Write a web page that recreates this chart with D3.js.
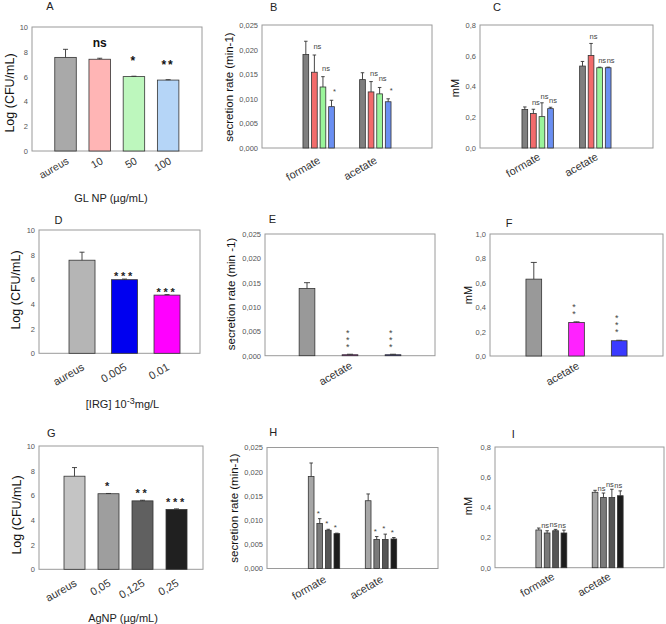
<!DOCTYPE html>
<html><head><meta charset="utf-8">
<script src="https://cdnjs.cloudflare.com/ajax/libs/d3/7.8.5/d3.min.js"></script>
<style>body{margin:0;background:#fff}svg{display:block}</style>
</head><body><script>
// ---------------- DATA ----------------
// Panel A: GL NP
const A_categories = ["aureus", "10", "50", "100"];
const A_values = [7.55, 7.4, 6.0, 5.72];
const A_errors = [0.65, 0.08, 0.03, 0.03];
const A_sig = ["", "ns", "*", "**"];
// Panel D: IRG
const D_categories = ["aureus", "0.005", "0.01"];
const D_values = [7.55, 5.97, 4.72];
const D_errors = [0.65, 0.05, 0.04];
const D_sig = ["", "***", "***"];
// Panel G: AgNP
const G_categories = ["aureus", "0,05", "0,125", "0,25"];
const G_values = [7.55, 6.13, 5.55, 4.85];
const G_errors = [0.7, 0.02, 0.05, 0.05];
const G_sig = ["", "*", "**", "***"];

const acidCategories = ["formate", "acetate"];
const acetateOnly = ["acetate"];

// Panel B: secretion rate (GL NP)
const B_formate = [0.0190, 0.0154, 0.0124, 0.0084];
const B_formateErr = [0.0027, 0.0035, 0.0021, 0.0013];
const B_acetate = [0.0139, 0.0114, 0.0110, 0.0094];
const B_acetateErr = [0.0014, 0.0021, 0.0013, 0.0006];
const B_sig = ["", "ns", "ns", "*"];
// Panel C: mM (GL NP)
const C_formate = [0.250, 0.224, 0.204, 0.256];
const C_formateErr = [0.017, 0.028, 0.09, 0.009];
const C_acetate = [0.533, 0.602, 0.522, 0.522];
const C_acetateErr = [0.030, 0.078, 0.004, 0.004];
const C_sig = ["", "ns", "ns", "ns"];
// Panel E: secretion rate (IRG)
const E_acetate = [0.0138, 0.0002, 0.0002];
const E_acetateErr = [0.0012, 0.0001, 0.0001];
const E_sig = ["", "***", "***"];
// Panel F: mM (IRG)
const F_acetate = [0.63, 0.275, 0.125];
const F_acetateErr = [0.137, 0.005, 0.004];
const F_sig = ["", "**", "***"];
// Panel H: secretion rate (AgNP)
const H_formate = [0.0190, 0.0093, 0.0079, 0.0072];
const H_formateErr = [0.0028, 0.0010, 0.0002, 0.0001];
const H_acetate = [0.0140, 0.0060, 0.0060, 0.0061];
const H_acetateErr = [0.0014, 0.0006, 0.0011, 0.0003];
const H_sig = ["", "*", "*", "*"];
// Panel I: mM (AgNP)
const I_formate = [0.250, 0.230, 0.245, 0.230];
const I_formateErr = [0.013, 0.015, 0.009, 0.019];
const I_acetate = [0.500, 0.465, 0.465, 0.477];
const I_acetateErr = [0.013, 0.030, 0.055, 0.032];
const I_sig = ["", "ns", "ns", "ns"];

// tick values
const cfuTicks = [0, 2, 4, 6, 8, 10];
const rateTicks = [0, 0.005, 0.010, 0.015, 0.020, 0.025];
const mM08Ticks = [0, 0.2, 0.4, 0.6, 0.8];
const mM10Ticks = [0, 0.2, 0.4, 0.6, 0.8, 1.0];

// ---------------- STYLE ----------------
const FONT = "'Liberation Sans', Arial, sans-serif";
const A_colors = ["#a9a9a9", "#ffb5b5", "#bdf7bd", "#b5d5f7"];
const D_colors = ["#b5b5b5", "#0000f0", "#ff00ff"];
const G_colors = ["#c4c4c4", "#9e9e9e", "#606060", "#202020"];
const BC_colors = ["#7f7f7f", "#f26b6b", "#9af59a", "#6a8ff2"];
const EF_colors = ["#999999", "#ff22ff", "#3a3aff"];
const HI_colors = ["#a6a6a6", "#7a7a7a", "#565656", "#1c1c1c"];

const intFmt = d3.format("d");
const commaFmt = f => d => d3.format(f)(d).replace(".", ",");

const W = 666, H = 624;
const svg = d3.select("body").append("svg").attr("width", W).attr("height", H)
  .style("font-family", FONT);

const cfuLabel = "Log (CFU/mL)";
const panels = [
  { id: "A", type: "single", cats: A_categories, values: A_values, errors: A_errors, sig: A_sig, colors: A_colors,
    frame: {x0: 32, x1: 202, y0: 27, y1: 151}, xDomain: [-0.98, 3.99], yDomain: [0, 10], yTicks: cfuTicks, fmt: intFmt,
    barW: 21.5, cap: 5, title: [50, 6.5], yLab: {t: cfuLabel, x: 10, y: 93, fs: 12.5},
    ann: {fs: 12, bold: true, gap: 11, dx: 0, color: "#111", ls: 2}, xl: {dx: 4, dy: 12, fs: 10.5} },
  { id: "D", type: "single", cats: D_categories, values: D_values, errors: D_errors, sig: D_sig, colors: D_colors,
    frame: {x0: 39, x1: 200, y0: 230, y1: 353.3}, xDomain: [-1.012, 2.776], yDomain: [0, 10], yTicks: cfuTicks, fmt: intFmt,
    barW: 26, cap: 5, title: [58.5, 220.5], yLab: {t: cfuLabel, x: 15.5, y: 290, fs: 12.5},
    ann: {fs: 11, bold: true, gap: -1, dx: 0, color: "#222", ls: 2.8}, xl: {dx: 3, dy: 16, fs: 11} },
  { id: "G", type: "single", cats: G_categories, values: G_values, errors: G_errors, sig: G_sig, colors: G_colors,
    frame: {x0: 39, x1: 203, y0: 446, y1: 569.3}, xDomain: [-1.044, 3.779], yDomain: [0, 10], yTicks: cfuTicks, fmt: intFmt,
    barW: 21, cap: 5, title: [51.3, 433.3], yLab: {t: cfuLabel, x: 16.5, y: 515, fs: 12.5},
    ann: {fs: 11, bold: true, gap: 3, dx: 0, color: "#222", ls: 2.8}, xl: {dx: 3, dy: 16, fs: 11} },
  { id: "B", type: "grouped", cats: acidCategories, values: [B_formate, B_acetate], errors: [B_formateErr, B_acetateErr],
    sig: [B_sig, B_sig], colors: BC_colors,
    frame: {x0: 262, x1: 432, y0: 25, y1: 148}, xDomain: [0, 3], yDomain: [0, 0.025], yTicks: rateTicks, fmt: commaFmt(".3f"),
    barW: 5.7, step: 8.56, cap: 3.5, title: [273.7, 7], yLab: {t: "secretion rate (min-1)", x: 229, y: 87, fs: 11.5},
    ann: {fs: 7.5, bold: false, gap: 6, dx: 3, color: "#444", ls: 0}, xl: {dx: 2.5, dy: 14.5, fs: 11} },
  { id: "C", type: "grouped", cats: acidCategories, values: [C_formate, C_acetate], errors: [C_formateErr, C_acetateErr],
    sig: [C_sig, C_sig], colors: BC_colors,
    frame: {x0: 480, x1: 653, y0: 25, y1: 148}, xDomain: [0, 3], yDomain: [0, 0.8], yTicks: mM08Ticks, fmt: commaFmt(".1f"),
    barW: 5.7, step: 8.56, cap: 3.5, title: [497, 7], yLab: {t: "mM", x: 455, y: 88, fs: 11},
    ann: {fs: 7.5, bold: false, gap: 4, dx: 2.5, color: "#444", ls: 0}, xl: {dx: 3.5, dy: 11, fs: 11} },
  { id: "E", type: "grouped", cats: acetateOnly, values: [E_acetate], errors: [E_acetateErr], sig: [E_sig], colors: EF_colors,
    frame: {x0: 265, x1: 435, y0: 234, y1: 355.7}, xDomain: [0, 2], yDomain: [0, 0.025], yTicks: rateTicks, fmt: commaFmt(".3f"),
    barW: 15.7, step: 43, cap: 6, title: [272.3, 218.7], yLab: {t: "secretion rate (min -1)", x: 231, y: 294, fs: 11.5},
    ann: {fs: 9, bold: false, gap: 9, dx: -2.2, color: "#444", vertical: true, vstep: 7}, xl: {dx: 3, dy: 12, fs: 11} },
  { id: "F", type: "grouped", cats: acetateOnly, values: [F_acetate], errors: [F_acetateErr], sig: [F_sig], colors: EF_colors,
    frame: {x0: 490, x1: 663, y0: 234, y1: 356}, xDomain: [0, 2], yDomain: [0, 1.0], yTicks: mM10Ticks, fmt: commaFmt(".1f"),
    barW: 15.7, step: 42.7, cap: 6, title: [509, 223], yLab: {t: "mM", x: 468, y: 295, fs: 11},
    ann: {fs: 9, bold: false, gap: 10, dx: -2.5, color: "#444", vertical: true, vstep: 7}, xl: {dx: 3.5, dy: 12, fs: 11} },
  { id: "H", type: "grouped", cats: acidCategories, values: [H_formate, H_acetate], errors: [H_formateErr, H_acetateErr],
    sig: [H_sig, H_sig], colors: HI_colors,
    frame: {x0: 267, x1: 438, y0: 447.5, y1: 568.5}, xDomain: [0, 3], yDomain: [0, 0.025], yTicks: rateTicks, fmt: commaFmt(".3f"),
    barW: 5.7, step: 8.56, cap: 3.5, title: [273.3, 431.7], yLab: {t: "secretion rate (min-1)", x: 233.5, y: 508, fs: 11.5},
    ann: {fs: 8, bold: false, gap: 3, dx: -1.5, color: "#444", ls: 0}, xl: {dx: 3, dy: 13, fs: 11} },
  { id: "I", type: "grouped", cats: acidCategories, values: [I_formate, I_acetate], errors: [I_formateErr, I_acetateErr],
    sig: [I_sig, I_sig], colors: HI_colors,
    frame: {x0: 495, x1: 664, y0: 447, y1: 567.7}, xDomain: [0, 3], yDomain: [0, 0.8], yTicks: mM08Ticks, fmt: commaFmt(".1f"),
    barW: 5.7, step: 8.4, cap: 3.5, title: [513.3, 434], yLab: {t: "mM", x: 468, y: 506, fs: 11},
    ann: {fs: 7.5, bold: false, gap: 2.5, dx: -2, color: "#444", ls: 0}, xl: {dx: 4, dy: 11, fs: 11} }
];

function drawPanel(p) {
  const f = p.frame;
  const g = svg.append("g").attr("class", "panel-" + p.id);
  const x = d3.scaleLinear().domain(p.xDomain).range([f.x0, f.x1]);
  const y = d3.scaleLinear().domain(p.yDomain).range([f.y1, f.y0]);

  const bars = [], labels = [];
  if (p.type === "single") {
    p.cats.forEach((c, i) => {
      bars.push({x: x(i), v: p.values[i], e: p.errors[i], sig: p.sig[i], color: p.colors[i]});
      labels.push({x: x(i), text: c});
    });
  } else {
    p.cats.forEach((c, ci) => {
      const vals = p.values[ci], errs = p.errors[ci], sg = p.sig[ci];
      const n = vals.length;
      vals.forEach((v, si) => bars.push({
        x: x(ci + 1) + (si - (n - 1) / 2) * p.step, v, e: errs[si], sig: sg[si], color: p.colors[si]
      }));
      labels.push({x: x(ci + 1), text: c});
    });
  }

  // frame
  g.append("rect").attr("x", f.x0).attr("y", f.y0)
    .attr("width", f.x1 - f.x0).attr("height", f.y1 - f.y0)
    .attr("fill", "none").attr("stroke", "#9a9a9a").attr("stroke-width", 1);

  // y axis
  const ax = g.append("g").attr("transform", `translate(${f.x0},0)`)
    .call(d3.axisLeft(y).tickValues(p.yTicks).tickFormat(p.fmt).tickSize(0).tickPadding(4));
  ax.select(".domain").remove();
  ax.selectAll("text").attr("font-size", 7.5).attr("fill", "#555").attr("font-family", FONT);

  // bars
  g.selectAll("rect.bar").data(bars).join("rect").attr("class", "bar")
    .attr("x", d => d.x - p.barW / 2).attr("y", d => y(d.v))
    .attr("width", p.barW).attr("height", d => Math.max(0.6, y(0) - y(d.v)))
    .attr("fill", d => d.color).attr("stroke", "#333").attr("stroke-width", 0.8);

  // error bars (upper only)
  const eb = g.selectAll("g.err").data(bars).join("g").attr("class", "err")
    .attr("stroke", "#333").attr("stroke-width", 0.9);
  eb.append("line").attr("x1", d => d.x).attr("x2", d => d.x)
    .attr("y1", d => y(d.v)).attr("y2", d => y(d.v + d.e));
  eb.append("line").attr("x1", d => d.x - p.cap / 2).attr("x2", d => d.x + p.cap / 2)
    .attr("y1", d => y(d.v + d.e)).attr("y2", d => y(d.v + d.e));

  // significance annotations
  const a = p.ann;
  bars.filter(d => d.sig).forEach(d => {
    const top = y(d.v + d.e);
    if (a.vertical) {
      d.sig.split("").forEach((ch, k) => {
        g.append("text").attr("x", d.x + a.dx)
          .attr("y", top - a.gap - k * a.vstep + 0.57 * a.fs)
          .attr("text-anchor", "middle").attr("font-size", a.fs).attr("fill", a.color).text(ch);
      });
    } else {
      g.append("text").attr("x", d.x + a.dx).attr("y", top - a.gap)
        .attr("text-anchor", "middle").attr("font-size", a.fs)
        .attr("font-weight", a.bold ? "bold" : "normal")
        .attr("letter-spacing", a.ls && d.sig.indexOf("*") >= 0 ? a.ls : 0)
        .attr("fill", a.color).text(d.sig);
    }
  });

  // x category labels (rotated -30 degrees)
  const xlg = g.selectAll("g.xl").data(labels).join("g").attr("class", "xl")
    .attr("transform", d => "translate(" + (d.x + p.xl.dx) + "," + (f.y1 + p.xl.dy) + ")");
  xlg.append("text").attr("x", 0).attr("y", 0)
    .attr("transform", "rotate(-30)")
    .style("transform", "rotate(-30deg)")
    .attr("text-anchor", "end").attr("font-size", p.xl.fs).attr("fill", "#333").text(d => d.text);

  // y label
  g.append("text")
    .attr("transform", `translate(${p.yLab.x + 0.35 * p.yLab.fs},${p.yLab.y}) rotate(-90)`)
    .attr("text-anchor", "middle").attr("font-size", p.yLab.fs).attr("fill", "#111").text(p.yLab.t);

  // panel letter
  g.append("text").attr("x", p.title[0]).attr("y", p.title[1] + 0.36 * 11)
    .attr("text-anchor", "middle").attr("font-size", 11).attr("fill", "#222").text(p.id);
}

panels.forEach(drawPanel);

// x-axis titles of the CFU panels
svg.append("text").attr("x", 111).attr("y", 198 + 3.8).attr("text-anchor", "middle")
  .attr("font-size", 11).attr("fill", "#222").text("GL NP (\u00b5g/mL)");
const irg = svg.append("text").attr("x", 122.5).attr("y", 404 + 3.8).attr("text-anchor", "middle")
  .attr("font-size", 11).attr("fill", "#222");
irg.append("tspan").text("[IRG] 10");
irg.append("tspan").attr("dy", -4).attr("font-size", 9).text("-3");
irg.append("tspan").attr("dy", 4).text("mg/L");
svg.append("text").attr("x", 123).attr("y", 618 + 3.8).attr("text-anchor", "middle")
  .attr("font-size", 11).attr("fill", "#222").text("AgNP (\u00b5g/mL)");
</script></body></html>
